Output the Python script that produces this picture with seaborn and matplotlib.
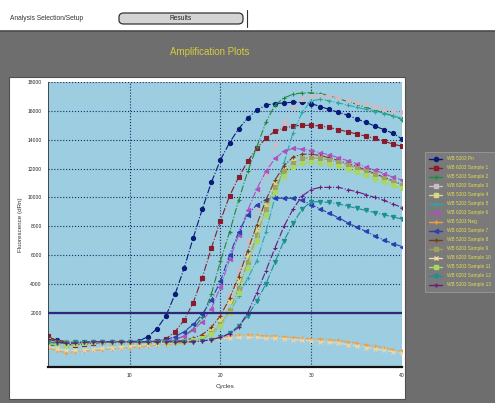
import matplotlib
matplotlib.use("Agg")
import matplotlib.pyplot as plt
from matplotlib.patches import Rectangle, FancyBboxPatch
from matplotlib.lines import Line2D
import seaborn as sns
import numpy as np

sns.set_theme(style="white")
plt.rcParams['font.family'] = ['Liberation Sans', 'DejaVu Sans']

cycles = list(range(1, 41))

labels = ["WB 5203 Pn", "WB 6203 Sample 1", "WB 5203 Sample 2", "WB 6203 Sample 3",
          "WB 5203 Sample 4", "WB 5203 Sample 5", "WB 6203 Sample 6", "WB 5203 Neg",
          "WB 6203 Sample 7", "WB 5203 Sample 8", "WB 6203 Sample 9", "WB 6203 Sample 10",
          "WB 5203 Sample 11", "WB 6203 Sample 12", "WB 5203 Sample 13"]

s01 = [300, 100, 0, -100, -100, -50, -50, 0, 0, 0,
       50, 350, 900, 1800, 3300, 5100, 7200, 9200, 11050, 12600,
       13800, 14750, 15500, 16050, 16400, 16500, 16550, 16600, 16600, 16500,
       16300, 16100, 15900, 15700, 15450, 15200, 14950, 14700, 14450, 14050]
s02 = [400, 0, -200, -200, -150, -100, -50, 0, 0, 0,
       0, 0, 50, 200, 700, 1500, 2700, 4450, 6500, 8400,
       10100, 11400, 12500, 13400, 14100, 14600, 14800, 14950, 15000, 15000,
       14950, 14850, 14700, 14550, 14400, 14250, 14100, 13900, 13700, 13550]
s03 = [-300, -200, -100, -50, 0, 0, 0, 0, 0, 0,
       0, 0, 0, 50, 150, 400, 900, 1700, 3300, 5600,
       7600, 9800, 11800, 13500, 15200, 16400, 16900, 17150, 17250, 17250,
       17200, 17050, 16850, 16650, 16450, 16250, 16050, 15850, 15650, 15400]
s04 = [200, 0, -100, -100, -50, 0, 0, 0, 0, 0,
       0, 0, 0, 0, 0, 50, 150, 400, 900, 1900,
       3300, 5000, 7000, 9300, 11600, 13600, 15200, 16300, 16800, 17000,
       17050, 17000, 16900, 16750, 16600, 16450, 16300, 16150, 16000, 15900]
s05 = [-100, -200, -150, -100, -50, 0, 0, 0, 0, 0,
       0, 0, 0, 0, 0, 50, 150, 350, 800, 1600,
       2800, 4300, 6000, 7800, 9500, 10900, 11900, 12500, 12700, 12700,
       12600, 12500, 12300, 12100, 11900, 11700, 11500, 11200, 11000, 10800]
s06 = [0, -100, -100, -50, 0, 0, 0, 0, 0, 0,
       0, 0, 0, 0, 0, 0, 50, 200, 500, 1100,
       2000, 3200, 4400, 5600, 7600, 10000, 12400, 14500, 15900, 16700,
       16800, 16700, 16550, 16400, 16250, 16100, 15950, 15800, 15650, 15500]
s07 = [200, 0, -100, -100, -50, 0, 0, 0, 0, 0,
       0, 0, 0, 50, 150, 400, 800, 1400, 2300, 3800,
       5700, 7400, 9100, 10600, 11800, 12700, 13200, 13400, 13350, 13250,
       13100, 12950, 12750, 12550, 12350, 12100, 11900, 11650, 11400, 11200]
s08 = [-400, -650, -750, -700, -650, -600, -550, -500, -450, -400,
       -350, -300, -250, -200, -150, -100, 0, 100, 200, 300,
       400, 450, 500, 450, 400, 400, 350, 300, 250, 200,
       200, 150, 100, 0, -100, -200, -300, -400, -550, -650]
s09 = [0, -100, -100, -50, 0, 0, 0, 0, 0, 0,
       0, 0, 50, 150, 350, 700, 1200, 1900, 2900, 4200,
       6000, 7600, 8800, 9500, 9850, 9950, 9950, 9950, 9800, 9500,
       9200, 8900, 8600, 8250, 7950, 7650, 7350, 7050, 6800, 6600]
s10 = [300, 100, 0, -50, -50, 0, 0, 0, 0, 0,
       0, 0, 0, 0, 50, 100, 250, 500, 1000, 1800,
       3000, 4500, 6300, 8100, 9800, 11200, 12200, 12800, 13000, 13000,
       12900, 12750, 12550, 12350, 12150, 11900, 11650, 11400, 11150, 10900]
s11 = [-200, -100, -50, 0, 0, 0, 0, 0, 0, 0,
       0, 0, 0, 0, 0, 50, 100, 250, 600, 1200,
       2200, 3700, 5500, 7400, 9200, 10700, 11800, 12400, 12700, 12750,
       12700, 12600, 12450, 12250, 12050, 11850, 11600, 11350, 11100, 10850]
s12 = [-300, -500, -600, -600, -550, -500, -450, -400, -350, -300,
       -250, -200, -150, -100, -50, 0, 50, 100, 150, 200,
       250, 300, 300, 300, 250, 250, 200, 150, 100, 50,
       0, -50, -100, -200, -300, -400, -500, -600, -700, -800]
s13 = [100, -100, -200, -150, -100, -50, 0, 0, 0, 0,
       0, 0, 0, 0, 0, 0, 100, 250, 550, 1100,
       2000, 3400, 5100, 7000, 8800, 10400, 11500, 12100, 12400, 12450,
       12400, 12300, 12150, 11950, 11750, 11550, 11300, 11050, 10850, 10650]
s14 = [0, -100, -100, -50, 0, 0, 0, 0, 0, 0,
       0, 0, 0, 0, 0, 0, 0, 50, 150, 300,
       600, 1100, 1800, 2800, 4000, 5500, 7000, 8200, 9200, 9700,
       9700, 9650, 9550, 9400, 9250, 9100, 8950, 8800, 8650, 8500]
s15 = [200, 0, -100, -100, -50, 0, 0, 0, 0, 0,
       0, 0, 0, 0, 0, 0, 0, 50, 150, 300,
       550, 1000, 2000, 3400, 4900, 6500, 8000, 9200, 10100, 10550,
       10700, 10700, 10700, 10550, 10400, 10200, 10000, 9800, 9550, 9300]

series = [s01, s02, s03, s04, s05, s06, s07, s08, s09, s10, s11, s12, s13, s14, s15]
threshold = 2000
ytick_vals = [2000, 4000, 6000, 8000, 10000, 12000, 14000, 16000, 18000]
xtick_vals = [10, 20, 30, 40]

colors = ['#0a1a7a', '#8b1a2a', '#1f8a3a', '#c8bcc8', '#d8d888', '#2aa8a8', '#b050c0',
          '#f0a040', '#2a40b0', '#7a3a1a', '#a0a060', '#f0d8a8', '#a8d860', '#1a9090', '#6a1a80']
markers = ['o', 's', '+', 's', 's', '+', '<', '+', '<', '+', 's', 'x', 's', 'v', '+']

W, H = 495, 403
fig = plt.figure(figsize=(W / 100, H / 100), dpi=100)
fig.patch.set_facecolor('#6e6e6e')

def fx(px):
    return px / W

def fy(py):
    return 1 - py / H

# top strip
fig.add_artist(Rectangle((0, fy(31)), 1, 31 / H, transform=fig.transFigure,
                         facecolor='white', edgecolor='none', zorder=0))
fig.add_artist(Line2D([0, 1], [fy(31), fy(31)], transform=fig.transFigure, color='#4a4a4a', lw=1.2))
fig.text(fx(10), fy(18), "Analysis Selection/Setup", fontsize=4.8, color='#333333', va='center', ha='left')
fig.add_artist(FancyBboxPatch((fx(119), fy(24)), fx(243) - fx(119), (24 - 13) / H,
                              boxstyle="round,pad=0,rounding_size=0.01", transform=fig.transFigure,
                              facecolor='#d4d4d4', edgecolor='#333333', lw=0.9))
fig.text(fx(181), fy(18.5), "Results", fontsize=4.8, color='#222222', va='center', ha='center')
fig.add_artist(Line2D([fx(247), fx(247)], [fy(10), fy(27)], transform=fig.transFigure, color='#333333', lw=0.8))

# title
fig.text(fx(210), fy(52), "Amplification Plots", fontsize=7, color='#d6cc3c', ha='center', va='center')

# white panel
fig.add_artist(Rectangle((fx(9), fy(399)), fx(405) - fx(9), (399 - 77) / H, transform=fig.transFigure,
                         facecolor='white', edgecolor='#505050', lw=0.8, zorder=0))

ax = fig.add_axes([fx(48), fy(367), fx(402) - fx(48), (367 - 82) / H])
ax.set_facecolor('#9ccde0')

for vals, col, mk in zip(series, colors, markers):
    sns.lineplot(x=cycles, y=vals, ax=ax, color=col, marker=mk, markersize=3.0,
                 markeredgecolor=col, markeredgewidth=0.8, linestyle='-.', linewidth=0.8,
                 legend=False)

ax.axhline(threshold, color='#2e2878', lw=1.6, zorder=5)

ax.set_xlim(1, 40)
ax.set_ylim(-1750, 18000)
ax.set_xticks(xtick_vals)
ax.set_xticks(list(range(1, 41)), minor=True)
ax.set_yticks(ytick_vals)
ax.set_yticks(list(range(1000, 18001, 1000)), minor=True)
ax.grid(True, which='major', color='#1a2a6a', linestyle=':', linewidth=0.8)
ax.tick_params(axis='both', which='major', labelsize=3.6, length=3, width=0.6, colors='#222222', direction='out')
ax.tick_params(axis='both', which='minor', length=2, width=0.5, colors='#222222', direction='out')
ax.tick_params(axis='both', pad=1.5)
for s in ['top', 'right']:
    ax.spines[s].set_visible(False)
ax.spines['left'].set_color('#333333')
ax.spines['left'].set_linewidth(0.6)
ax.spines['bottom'].set_color('#111111')
ax.spines['bottom'].set_linewidth(1.6)
ax.set_xlabel("Cycles", fontsize=4.5, color='#333333', labelpad=4)
ax.set_ylabel("Fluorescence (dRn)", fontsize=4.5, color='#333333', labelpad=3)

handles = [Line2D([0], [0], color=c, marker=m, markersize=3, linestyle='-', lw=1.0,
                  markeredgecolor=c) for c, m in zip(colors, markers)]
leg = fig.legend(handles, labels, loc='upper left', bbox_to_anchor=(fx(425), fy(152)),
                 fontsize=3.4, labelcolor='#e4dc50', facecolor='#7a7a7a', edgecolor='#9a9a9a',
                 framealpha=1, fancybox=False, handlelength=2.8, handletextpad=0.9,
                 labelspacing=0.85, borderpad=0.9, borderaxespad=0)
leg.get_frame().set_linewidth(0.6)

fig.savefig("out.png", dpi=100, facecolor=fig.get_facecolor())
